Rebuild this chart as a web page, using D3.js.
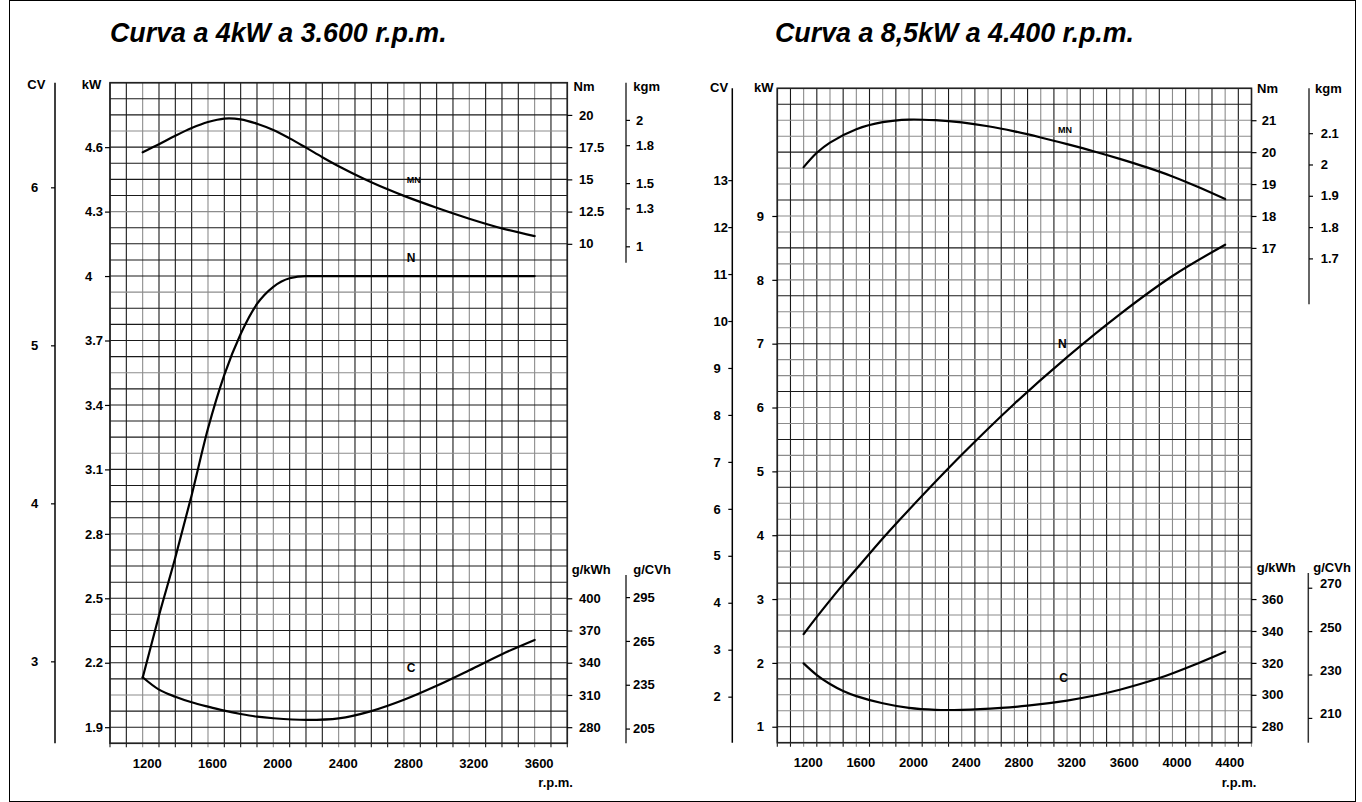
<!DOCTYPE html>
<html>
<head>
<meta charset="utf-8">
<script src="https://cdn.jsdelivr.net/npm/d3@7"></script>
<style>
body { margin: 0; background: #fff; }
text { font-family: "Liberation Sans", Arial, sans-serif; font-weight: bold; fill: #000; }
</style>
</head>
<body>
<script>
// ---- 4 kW a 3600 rpm ----
var leftMnRpm = [1200, 1300, 1400, 1500, 1600, 1700, 1800, 1900, 2000, 2100, 2200, 2300, 2400, 2500, 2600, 2700, 2800, 3000, 3200, 3400, 3600];
var leftMn    = [17.1, 17.72, 18.38, 18.98, 19.45, 19.72, 19.66, 19.32, 18.83, 18.18, 17.46, 16.72, 16.02, 15.38, 14.78, 14.23, 13.72, 12.8, 11.95, 11.2, 10.6];
var leftNRpm  = [1200, 1300, 1400, 1500, 1600, 1700, 1800, 1900, 2000, 2100, 2200, 2400, 2800, 3200, 3600];
var leftN     = [2.13, 2.42, 2.69, 2.98, 3.29, 3.54, 3.73, 3.87, 3.95, 3.99, 4.0, 4.0, 4.0, 4.0, 4.0];
var leftCRpm  = [1200, 1300, 1400, 1500, 1600, 1700, 1800, 1900, 2000, 2200, 2400, 2600, 2800, 3000, 3200, 3400, 3600];
var leftC     = [326.5, 315, 308.4, 303.2, 299.1, 295.4, 292.3, 289.8, 288.3, 286.8, 288.2, 295, 305.5, 318.5, 333, 348, 361.2];

var leftKwTicks   = [4.6, 4.3, 4, 3.7, 3.4, 3.1, 2.8, 2.5, 2.2, 1.9];
var leftCvTicks   = [6, 5, 4, 3];
var leftNmTicks   = [20, 17.5, 15, 12.5, 10];
var leftKgmTicks  = [2, 1.8, 1.5, 1.3, 1];
var leftGkwhTicks = [400, 370, 340, 310, 280];
var leftGcvhTicks = [295, 265, 235, 205];
var leftRpmTicks  = [1200, 1600, 2000, 2400, 2800, 3200, 3600];

// ---- 8,5 kW a 4400 rpm ----
var rightMnRpm = [1200, 1300, 1400, 1600, 1800, 2000, 2200, 2400, 2600, 2800, 3000, 3200, 3400, 3600, 3800, 4000, 4200, 4400];
var rightMn    = [19.53, 19.98, 20.3, 20.72, 20.94, 21.02, 21.0, 20.93, 20.81, 20.65, 20.46, 20.25, 20.03, 19.79, 19.53, 19.24, 18.9, 18.53];
var rightNRpm  = [1200, 1300, 1400, 1500, 1600, 1800, 2000, 2400, 2800, 3200, 3600, 4000, 4400];
var rightN     = [2.45, 2.72, 2.98, 3.23, 3.47, 3.95, 4.40, 5.26, 6.06, 6.79, 7.46, 8.06, 8.55];
var rightCRpm  = [1200, 1300, 1400, 1500, 1600, 1800, 2000, 2200, 2400, 2700, 2900, 3200, 3400, 3600, 3900, 4200, 4400];
var rightC     = [319.7, 312.4, 306.8, 302.4, 299.2, 294.7, 291.8, 290.6, 290.6, 291.8, 293.2, 296.4, 299.4, 303.2, 310.5, 320, 327];

var rightKwTicks   = [9, 8, 7, 6, 5, 4, 3, 2, 1];
var rightCvTicks   = [13, 12, 11, 10, 9, 8, 7, 6, 5, 4, 3, 2];
var rightNmTicks   = [21, 20, 19, 18, 17];
var rightKgmTicks  = [2.1, 2, 1.9, 1.8, 1.7];
var rightGkwhTicks = [360, 340, 320, 300, 280];
var rightGcvhTicks = [270, 250, 230, 210];
var rightRpmTicks  = [1200, 1600, 2000, 2400, 2800, 3200, 3600, 4000, 4400];

var width = 1362,
    height = 802;

var svg = d3.select("body")
    .append("svg")
    .attr("width", width)
    .attr("height", height);

// page frame
svg.append("rect")
    .attr("x", 9.5).attr("y", 0.5)
    .attr("width", 1346).attr("height", 801)
    .attr("fill", "none")
    .attr("stroke", "#000");

function label(g, txt, x, y, size) {
    g.append("text")
        .attr("x", x).attr("y", y)
        .attr("font-size", size || 13)
        .text(txt);
}

function styleAxis(sel, labelX, shift) {
    sel.select(".domain").remove();
    sel.selectAll(".tick line").attr("stroke", "#000").attr("stroke-width", 1.2);
    sel.selectAll(".tick text")
        .attr("x", labelX)
        .attr("dy", shift || "0.32em")
        .attr("text-anchor", "start")
        .attr("font-size", 13)
        .attr("font-family", "Liberation Sans, Arial, sans-serif")
        .attr("font-weight", "bold");
}

function drawPanel(p) {
    var g = svg.append("g");

    var x = d3.scaleLinear().domain(p.rpmDomain).range([p.left, p.right]);
    var row = d3.scaleLinear().domain([0, p.rows]).range([p.top, p.bottom]);
    var kw = d3.scaleLinear().domain([p.kwTop, p.kwTop - p.rows * p.kwStep]).range([p.top, p.bottom]);
    var cv = d3.scaleLinear().domain(kw.domain().map(function(d) { return d / 0.7355; })).range(kw.range());
    var nm = d3.scaleLinear().domain([p.nmTop, p.nmTop - p.rows * p.nmStep]).range([p.top, p.bottom]);
    var kgm = d3.scaleLinear().domain(nm.domain().map(function(d) { return d / 9.80665; })).range(nm.range());
    var gkwh = d3.scaleLinear().domain([p.gBottom + p.rows * p.gStep, p.gBottom]).range([p.top, p.bottom]);
    var gcvh = d3.scaleLinear().domain(gkwh.domain().map(function(d) { return d * 0.7355; })).range(gkwh.range());

    // grid
    var cols = d3.range(p.rpmDomain[0], p.rpmDomain[1] + 1, 100);
    g.append("g").selectAll("line")
        .data(cols)
      .enter().append("line")
        .attr("x1", function(d) { return x(d); })
        .attr("x2", function(d) { return x(d); })
        .attr("y1", p.top)
        .attr("y2", p.bottom + 4)
        .attr("stroke", function(d, i) { return p.lightCol(i) ? "#8c8c8c" : "#1a1a1a"; })
        .attr("stroke-width", 1.1);

    g.append("g").selectAll("line")
        .data(d3.range(0, p.rows + 1))
      .enter().append("line")
        .attr("x1", p.left)
        .attr("x2", p.right)
        .attr("y1", function(d) { return row(d); })
        .attr("y2", function(d) { return row(d); })
        .attr("stroke", function(d) { return p.lightRow(d) ? "#8c8c8c" : "#1a1a1a"; })
        .attr("stroke-width", 1.1);

    g.append("rect")
        .attr("x", p.left).attr("y", p.top)
        .attr("width", p.right - p.left).attr("height", p.bottom - p.top)
        .attr("fill", "none").attr("stroke", "#222").attr("stroke-width", 1.6);

    // left axes: kW on the grid, CV on its own line
    g.append("g")
        .attr("transform", "translate(" + p.left + ",0)")
        .call(d3.axisLeft(kw).tickValues(p.kwTicks).tickSize(5).tickFormat(String))
        .call(styleAxis, p.kwLabelX - p.left);

    g.append("line")
        .attr("x1", p.cvX).attr("x2", p.cvX)
        .attr("y1", p.top).attr("y2", p.bottom)
        .attr("stroke", "#000").attr("stroke-width", 1.5);
    g.append("g")
        .attr("transform", "translate(" + p.cvX + ",0)")
        .call(d3.axisLeft(cv).tickValues(p.cvTicks).tickSize(4).tickFormat(String))
        .call(styleAxis, p.cvLabelX - p.cvX);

    // right axes: Nm / kgm at top, g/kWh / g/CVh at bottom
    g.append("g")
        .attr("transform", "translate(" + p.right + ",0)")
        .call(d3.axisRight(nm).tickValues(p.nmTicks).tickSize(5).tickFormat(String))
        .call(styleAxis, p.nmLabelX - p.right);

    g.append("line")
        .attr("x1", p.kgmX).attr("x2", p.kgmX)
        .attr("y1", p.top).attr("y2", p.kgmBottom)
        .attr("stroke", "#333").attr("stroke-width", 1.5);
    g.append("g")
        .attr("transform", "translate(" + p.kgmX + ",0)")
        .call(d3.axisRight(kgm).tickValues(p.kgmTicks).tickSize(4).tickFormat(String))
        .call(styleAxis, p.kgmLabelX - p.kgmX);

    g.append("g")
        .attr("transform", "translate(" + p.right + ",0)")
        .call(d3.axisRight(gkwh).tickValues(p.gkwhTicks).tickSize(5).tickFormat(String))
        .call(styleAxis, p.nmLabelX - p.right);

    g.append("line")
        .attr("x1", p.gcvhX).attr("x2", p.gcvhX)
        .attr("y1", p.gcvhTop).attr("y2", p.bottom)
        .attr("stroke", "#333").attr("stroke-width", 1.5);
    g.append("g")
        .attr("transform", "translate(" + p.gcvhX + ",0)")
        .call(d3.axisRight(gcvh).tickValues(p.gcvhTicks).tickSize(4).tickFormat(String))
        .call(styleAxis, p.gcvhLabelX - p.gcvhX, p.gcvhDy);

    // rpm axis
    var xa = g.append("g")
        .attr("transform", "translate(0," + p.bottom + ")")
        .call(d3.axisBottom(x).tickValues(p.rpmTicks).tickSize(0).tickFormat(String));
    xa.select(".domain").remove();
    xa.selectAll(".tick text")
        .attr("dx", 4)
        .attr("y", p.rpmLabelY - p.bottom)
        .attr("dy", 0)
        .attr("font-size", 13)
        .attr("font-family", "Liberation Sans, Arial, sans-serif")
        .attr("font-weight", "bold");

    // curves (N of the small engine is governed flat, keep it monotone)
    var curves = [
        { rpm: p.mnRpm, v: p.mn, s: nm, k: d3.curveCatmullRom.alpha(0.5) },
        { rpm: p.nRpm, v: p.n, s: kw, k: p.nCurve },
        { rpm: p.cRpm, v: p.c, s: gkwh, k: d3.curveCatmullRom.alpha(0.5) }
    ];
    curves.forEach(function(c) {
        var line = d3.line()
            .x(function(d) { return x(d[0]); })
            .y(function(d) { return c.s(d[1]); })
            .curve(c.k);
        g.append("path")
            .datum(d3.zip(c.rpm, c.v))
            .attr("d", line)
            .attr("fill", "none")
            .attr("stroke", "#000")
            .attr("stroke-width", 2.2)
            .attr("stroke-linecap", "round");
    });

    // headings and labels
    p.heads.forEach(function(h) { label(g, h[0], h[1], h[2]); });
    label(g, "MN", p.mnLab[0], p.mnLab[1], 9);
    label(g, "N", p.nLab[0], p.nLab[1], 12);
    label(g, "C", p.cLab[0], p.cLab[1], 12);
    label(g, "r.p.m.", p.rpmLab[0], p.rpmLab[1], 13);

    g.append("text")
        .attr("x", p.titleX).attr("y", 42)
        .attr("font-size", 26.8)
        .attr("font-style", "italic")
        .text(p.title);
}

drawPanel({
    title: "Curva a 4kW a 3.600 r.p.m.", titleX: 110,
    left: 110, right: 567.3, top: 82.7, bottom: 743.3, rows: 41,
    rpmDomain: [1000, 3800],
    kwTop: 4.9, kwStep: 0.075,
    nmTop: 22.5, nmStep: 1.25,
    gBottom: 265, gStep: 15,
    lightCol: function(i) { return i % 4 === 2; },
    lightRow: function(i) { return i % 5 === 3; },
    kwTicks: leftKwTicks, kwLabelX: 85,
    cvTicks: leftCvTicks, cvX: 55, cvLabelX: 31,
    nmTicks: leftNmTicks, nmLabelX: 579,
    kgmTicks: leftKgmTicks, kgmX: 626, kgmBottom: 262.7, kgmLabelX: 636,
    gkwhTicks: leftGkwhTicks,
    gcvhTicks: leftGcvhTicks, gcvhX: 626, gcvhTop: 575, gcvhLabelX: 633, gcvhDy: "0.32em",
    rpmTicks: leftRpmTicks, rpmLabelY: 768,
    mnRpm: leftMnRpm, mn: leftMn, nRpm: leftNRpm, n: leftN, cRpm: leftCRpm, c: leftC,
    nCurve: d3.curveMonotoneX,
    heads: [["CV", 27.3, 89.3], ["kW", 81.7, 89], ["Nm", 573.5, 90.7], ["kgm", 633.3, 91],
            ["g/kWh", 571.7, 574], ["g/CVh", 633.3, 574]],
    mnLab: [406.7, 182.5], nLab: [406.7, 261.5], cLab: [406.7, 671.7], rpmLab: [538.3, 786.7]
});

drawPanel({
    title: "Curva a 8,5kW a 4.400 r.p.m.", titleX: 775,
    left: 777.3, right: 1251.5, top: 88.3, bottom: 742.7, rows: 41,
    rpmDomain: [1000, 4600],
    kwTop: 11, kwStep: 0.25,
    nmTop: 22, nmStep: 0.5,
    gBottom: 270, gStep: 10,
    lightCol: function(i) { return i % 2 === 0 && i !== 0; },
    lightRow: function(i) { return i % 3 !== 1; },
    kwTicks: rightKwTicks, kwLabelX: 756.7,
    cvTicks: rightCvTicks, cvX: 732.3, cvLabelX: 713.5,
    nmTicks: rightNmTicks, nmLabelX: 1261.7,
    kgmTicks: rightKgmTicks, kgmX: 1309, kgmBottom: 304.3, kgmLabelX: 1320.7,
    gkwhTicks: rightGkwhTicks,
    gcvhTicks: rightGcvhTicks, gcvhX: 1308.3, gcvhTop: 573, gcvhLabelX: 1320, gcvhDy: "0em",
    rpmTicks: rightRpmTicks, rpmLabelY: 767,
    mnRpm: rightMnRpm, mn: rightMn, nRpm: rightNRpm, n: rightN, cRpm: rightCRpm, c: rightC,
    nCurve: d3.curveCatmullRom.alpha(0.5),
    heads: [["CV", 710, 91.5], ["kW", 754, 91.5], ["Nm", 1257, 92.7], ["kgm", 1315, 92.7],
            ["g/kWh", 1256.7, 571.7], ["g/CVh", 1313.3, 571.7]],
    mnLab: [1058, 133], nLab: [1058, 348], cLab: [1059.3, 681.7], rpmLab: [1221.7, 786.7]
});
</script>
</body>
</html>
